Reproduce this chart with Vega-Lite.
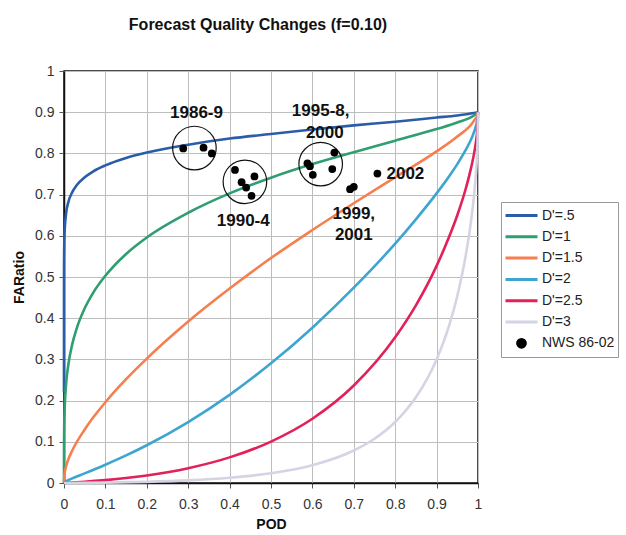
{
  "$schema": "https://vega.github.io/schema/vega-lite/v6.json",
  "autosize": "none",
  "width": 414,
  "height": 412,
  "padding": {"left": 64, "top": 71, "right": 148, "bottom": 52},
  "background": "white",
  "title": {
    "text": "Forecast Quality Changes (f=0.10)",
    "font": "Liberation Sans",
    "fontSize": 16,
    "fontWeight": "bold",
    "color": "#111",
    "anchor": "middle",
    "frame": "group",
    "dx": -13,
    "baseline": "alphabetic",
    "offset": 18
  },
  "config": {
    "view": {"stroke": "#111", "strokeWidth": 1.5},
    "axis": {
      "labelFont": "Liberation Sans",
      "labelFontSize": 14,
      "labelColor": "#333",
      "labelFlush": false,
      "titleFont": "Liberation Sans",
      "titleFontSize": 14,
      "titleFontWeight": "bold",
      "titleColor": "#111",
      "gridColor": "#bdbdbd",
      "gridWidth": 1,
      "domainColor": "#111",
      "domainWidth": 1.5,
      "tickColor": "#555",
      "tickSize": 5
    }
  },
  "datasets": {
    "curves": [
      {"s": "D'=.5", "pod": 0, "far": 0.22},
      {"s": "D'=.5", "pod": 0.00001, "far": 0.46},
      {"s": "D'=.5", "pod": 0.0001, "far": 0.525},
      {"s": "D'=.5", "pod": 0.001, "far": 0.598},
      {"s": "D'=.5", "pod": 0.005, "far": 0.654},
      {"s": "D'=.5", "pod": 0.01, "far": 0.68},
      {"s": "D'=.5", "pod": 0.02, "far": 0.706},
      {"s": "D'=.5", "pod": 0.03, "far": 0.722},
      {"s": "D'=.5", "pod": 0.05, "far": 0.742},
      {"s": "D'=.5", "pod": 0.07, "far": 0.756},
      {"s": "D'=.5", "pod": 0.1, "far": 0.771},
      {"s": "D'=.5", "pod": 0.15, "far": 0.789},
      {"s": "D'=.5", "pod": 0.2, "far": 0.802},
      {"s": "D'=.5", "pod": 0.3, "far": 0.821},
      {"s": "D'=.5", "pod": 0.4, "far": 0.836},
      {"s": "D'=.5", "pod": 0.5, "far": 0.847},
      {"s": "D'=.5", "pod": 0.6, "far": 0.858},
      {"s": "D'=.5", "pod": 0.7, "far": 0.868},
      {"s": "D'=.5", "pod": 0.8, "far": 0.877},
      {"s": "D'=.5", "pod": 0.9, "far": 0.887},
      {"s": "D'=.5", "pod": 0.95, "far": 0.892},
      {"s": "D'=.5", "pod": 0.99, "far": 0.898},
      {"s": "D'=.5", "pod": 1, "far": 0.9},
      {"s": "D'=1", "pod": 0, "far": 0},
      {"s": "D'=1", "pod": 0.0001, "far": 0.096},
      {"s": "D'=1", "pod": 0.001, "far": 0.162},
      {"s": "D'=1", "pod": 0.005, "far": 0.239},
      {"s": "D'=1", "pod": 0.01, "far": 0.284},
      {"s": "D'=1", "pod": 0.02, "far": 0.337},
      {"s": "D'=1", "pod": 0.03, "far": 0.373},
      {"s": "D'=1", "pod": 0.05, "far": 0.424},
      {"s": "D'=1", "pod": 0.07, "far": 0.461},
      {"s": "D'=1", "pod": 0.1, "far": 0.503},
      {"s": "D'=1", "pod": 0.15, "far": 0.556},
      {"s": "D'=1", "pod": 0.2, "far": 0.596},
      {"s": "D'=1", "pod": 0.3, "far": 0.656},
      {"s": "D'=1", "pod": 0.4, "far": 0.703},
      {"s": "D'=1", "pod": 0.5, "far": 0.741},
      {"s": "D'=1", "pod": 0.6, "far": 0.774},
      {"s": "D'=1", "pod": 0.7, "far": 0.803},
      {"s": "D'=1", "pod": 0.8, "far": 0.831},
      {"s": "D'=1", "pod": 0.9, "far": 0.859},
      {"s": "D'=1", "pod": 0.95, "far": 0.875},
      {"s": "D'=1", "pod": 0.99, "far": 0.892},
      {"s": "D'=1", "pod": 1, "far": 0.9},
      {"s": "D'=1.5", "pod": 0, "far": 0},
      {"s": "D'=1.5", "pod": 0.0001, "far": 0.008},
      {"s": "D'=1.5", "pod": 0.001, "far": 0.02},
      {"s": "D'=1.5", "pod": 0.005, "far": 0.04},
      {"s": "D'=1.5", "pod": 0.01, "far": 0.056},
      {"s": "D'=1.5", "pod": 0.02, "far": 0.079},
      {"s": "D'=1.5", "pod": 0.05, "far": 0.13},
      {"s": "D'=1.5", "pod": 0.1, "far": 0.196},
      {"s": "D'=1.5", "pod": 0.15, "far": 0.252},
      {"s": "D'=1.5", "pod": 0.2, "far": 0.302},
      {"s": "D'=1.5", "pod": 0.3, "far": 0.392},
      {"s": "D'=1.5", "pod": 0.4, "far": 0.472},
      {"s": "D'=1.5", "pod": 0.5, "far": 0.546},
      {"s": "D'=1.5", "pod": 0.6, "far": 0.614},
      {"s": "D'=1.5", "pod": 0.7, "far": 0.679},
      {"s": "D'=1.5", "pod": 0.8, "far": 0.742},
      {"s": "D'=1.5", "pod": 0.9, "far": 0.805},
      {"s": "D'=1.5", "pod": 0.95, "far": 0.841},
      {"s": "D'=1.5", "pod": 0.99, "far": 0.879},
      {"s": "D'=1.5", "pod": 0.999, "far": 0.895},
      {"s": "D'=1.5", "pod": 1, "far": 0.9},
      {"s": "D'=2", "pod": 0, "far": 0},
      {"s": "D'=2", "pod": 0.01, "far": 0.0067},
      {"s": "D'=2", "pod": 0.02, "far": 0.0113},
      {"s": "D'=2", "pod": 0.05, "far": 0.0234},
      {"s": "D'=2", "pod": 0.1, "far": 0.0444},
      {"s": "D'=2", "pod": 0.15, "far": 0.0669},
      {"s": "D'=2", "pod": 0.2, "far": 0.0916},
      {"s": "D'=2", "pod": 0.3, "far": 0.148},
      {"s": "D'=2", "pod": 0.4, "far": 0.214},
      {"s": "D'=2", "pod": 0.5, "far": 0.2905},
      {"s": "D'=2", "pod": 0.6, "far": 0.377},
      {"s": "D'=2", "pod": 0.7, "far": 0.474},
      {"s": "D'=2", "pod": 0.8, "far": 0.581},
      {"s": "D'=2", "pod": 0.85, "far": 0.64},
      {"s": "D'=2", "pod": 0.9, "far": 0.703},
      {"s": "D'=2", "pod": 0.93, "far": 0.744},
      {"s": "D'=2", "pod": 0.95, "far": 0.774},
      {"s": "D'=2", "pod": 0.97, "far": 0.808},
      {"s": "D'=2", "pod": 0.98, "far": 0.827},
      {"s": "D'=2", "pod": 0.99, "far": 0.851},
      {"s": "D'=2", "pod": 0.999, "far": 0.886},
      {"s": "D'=2", "pod": 1, "far": 0.9},
      {"s": "D'=2.5", "pod": 0, "far": 0},
      {"s": "D'=2.5", "pod": 0.05, "far": 0.003},
      {"s": "D'=2.5", "pod": 0.1, "far": 0.007},
      {"s": "D'=2.5", "pod": 0.15, "far": 0.012},
      {"s": "D'=2.5", "pod": 0.2, "far": 0.0184},
      {"s": "D'=2.5", "pod": 0.3, "far": 0.036},
      {"s": "D'=2.5", "pod": 0.4, "far": 0.0622},
      {"s": "D'=2.5", "pod": 0.5, "far": 0.1006},
      {"s": "D'=2.5", "pod": 0.6, "far": 0.156},
      {"s": "D'=2.5", "pod": 0.7, "far": 0.2366},
      {"s": "D'=2.5", "pod": 0.8, "far": 0.3536},
      {"s": "D'=2.5", "pod": 0.85, "far": 0.431},
      {"s": "D'=2.5", "pod": 0.9, "far": 0.527},
      {"s": "D'=2.5", "pod": 0.93, "far": 0.597},
      {"s": "D'=2.5", "pod": 0.95, "far": 0.65},
      {"s": "D'=2.5", "pod": 0.97, "far": 0.713},
      {"s": "D'=2.5", "pod": 0.98, "far": 0.751},
      {"s": "D'=2.5", "pod": 0.99, "far": 0.797},
      {"s": "D'=2.5", "pod": 0.995, "far": 0.8275},
      {"s": "D'=2.5", "pod": 0.999, "far": 0.867},
      {"s": "D'=2.5", "pod": 1, "far": 0.9},
      {"s": "D'=3", "pod": 0, "far": 0},
      {"s": "D'=3", "pod": 0.1, "far": 0.0008},
      {"s": "D'=3", "pod": 0.2, "far": 0.0028},
      {"s": "D'=3", "pod": 0.3, "far": 0.0063},
      {"s": "D'=3", "pod": 0.4, "far": 0.0127},
      {"s": "D'=3", "pod": 0.5, "far": 0.0237},
      {"s": "D'=3", "pod": 0.6, "far": 0.0431},
      {"s": "D'=3", "pod": 0.7, "far": 0.0788},
      {"s": "D'=3", "pod": 0.75, "far": 0.1073},
      {"s": "D'=3", "pod": 0.8, "far": 0.148},
      {"s": "D'=3", "pod": 0.85, "far": 0.208},
      {"s": "D'=3", "pod": 0.9, "far": 0.3},
      {"s": "D'=3", "pod": 0.93, "far": 0.3815},
      {"s": "D'=3", "pod": 0.95, "far": 0.454},
      {"s": "D'=3", "pod": 0.97, "far": 0.55},
      {"s": "D'=3", "pod": 0.98, "far": 0.6125},
      {"s": "D'=3", "pod": 0.99, "far": 0.6946},
      {"s": "D'=3", "pod": 0.995, "far": 0.752},
      {"s": "D'=3", "pod": 0.999, "far": 0.828},
      {"s": "D'=3", "pod": 1, "far": 0.9}
    ],
    "nws": [
      {"s": "NWS 86-02", "pod": 0.288, "far": 0.812},
      {"s": "NWS 86-02", "pod": 0.337, "far": 0.814},
      {"s": "NWS 86-02", "pod": 0.357, "far": 0.8},
      {"s": "NWS 86-02", "pod": 0.413, "far": 0.76},
      {"s": "NWS 86-02", "pod": 0.429, "far": 0.73},
      {"s": "NWS 86-02", "pod": 0.44, "far": 0.717},
      {"s": "NWS 86-02", "pod": 0.46, "far": 0.744},
      {"s": "NWS 86-02", "pod": 0.453, "far": 0.697},
      {"s": "NWS 86-02", "pod": 0.588, "far": 0.776},
      {"s": "NWS 86-02", "pod": 0.594, "far": 0.769},
      {"s": "NWS 86-02", "pod": 0.601, "far": 0.748},
      {"s": "NWS 86-02", "pod": 0.653, "far": 0.802},
      {"s": "NWS 86-02", "pod": 0.648, "far": 0.762},
      {"s": "NWS 86-02", "pod": 0.691, "far": 0.713},
      {"s": "NWS 86-02", "pod": 0.7, "far": 0.719},
      {"s": "NWS 86-02", "pod": 0.757, "far": 0.751}
    ],
    "rings": [
      {"group": "1986-9", "pod": 0.315, "far": 0.813},
      {"group": "1990-4", "pod": 0.437, "far": 0.731},
      {"group": "1995-8, 2000", "pod": 0.62, "far": 0.774}
    ],
    "notes": [
      {"text": "1986-9", "pod": 0.32, "far": 0.899, "side": "center"},
      {"text": "1990-4", "pod": 0.433, "far": 0.637, "side": "center"},
      {"text": "1995-8,", "pod": 0.62, "far": 0.903, "side": "center"},
      {"text": "2000", "pod": 0.63, "far": 0.85, "side": "center"},
      {"text": "1999,", "pod": 0.7, "far": 0.653, "side": "center"},
      {"text": "2001", "pod": 0.7, "far": 0.601, "side": "center"},
      {"text": "2002", "pod": 0.779, "far": 0.75, "side": "left"}
    ]
  },
  "encoding": {
    "x": {
      "field": "pod",
      "type": "quantitative",
      "title": "POD",
      "scale": {"domain": [0, 1], "nice": false},
      "axis": {
        "values": [0, 0.1, 0.2, 0.3, 0.4, 0.5, 0.6, 0.7, 0.8, 0.9, 1],
        "format": "~g",
        "labelPadding": 9,
        "titlePadding": 6
      }
    },
    "y": {
      "field": "far",
      "type": "quantitative",
      "title": "FARatio",
      "scale": {"domain": [0, 1], "nice": false},
      "axis": {
        "values": [0, 0.1, 0.2, 0.3, 0.4, 0.5, 0.6, 0.7, 0.8, 0.9, 1],
        "format": "~g",
        "labelPadding": 5,
        "titlePadding": 8
      }
    }
  },
  "layer": [
    {
      "data": {"name": "curves"},
      "mark": {"type": "line", "strokeWidth": 2.6, "interpolate": "monotone"},
      "encoding": {
        "color": {
          "field": "s",
          "type": "nominal",
          "scale": {
            "domain": ["D'=.5", "D'=1", "D'=1.5", "D'=2", "D'=2.5", "D'=3", "NWS 86-02"],
            "range": ["#2b5ca8", "#2f9e70", "#f57f4f", "#3da5d0", "#e2215a", "#d4d4e4", "#000000"]
          },
          "legend": {
            "orient": "none",
            "legendX": 437,
            "legendY": 131,
            "title": null,
            "symbolType": "stroke",
            "symbolSize": 1024,
            "symbolStrokeWidth": 3,
            "labelFont": "Liberation Sans",
            "labelFontSize": 14,
            "labelColor": "#222",
            "labelOffset": 3,
            "clipHeight": 21,
            "rowPadding": 0.3,
            "padding": 3,
            "strokeColor": "#999",
            "fillColor": "white",
            "encode": {
              "symbols": {
                "update": {
                  "shape": {"signal": "datum.value === 'NWS 86-02' ? 'circle' : 'stroke'"},
                  "size": {"signal": "datum.value === 'NWS 86-02' ? 60 : 1024"},
                  "fill": {"signal": "datum.value === 'NWS 86-02' ? 'black' : 'transparent'"},
                  "stroke": {"signal": "datum.value === 'NWS 86-02' ? 'transparent' : scale('color', datum.value)"},
                  "strokeWidth": {"value": 3},
                  "opacity": {"value": 1}
                }
              }
            }
          }
        }
      }
    },
    {
      "data": {"name": "rings"},
      "mark": {"type": "point", "shape": "circle", "filled": false, "size": 1900, "stroke": "#111", "strokeWidth": 1.2, "opacity": 1}
    },
    {
      "data": {"name": "nws"},
      "mark": {"type": "point", "shape": "circle", "filled": true, "size": 60, "opacity": 1},
      "encoding": {
        "color": {"field": "s", "type": "nominal"}
      }
    },
    {
      "data": {"name": "notes"},
      "transform": [{"filter": "datum.side == 'center'"}],
      "mark": {"type": "text", "font": "Liberation Sans", "fontSize": 17, "fontWeight": "bold", "color": "#111", "baseline": "middle", "align": "center"},
      "encoding": {
        "text": {"field": "text"}
      }
    },
    {
      "data": {"name": "notes"},
      "transform": [{"filter": "datum.side == 'left'"}],
      "mark": {"type": "text", "font": "Liberation Sans", "fontSize": 17, "fontWeight": "bold", "color": "#111", "baseline": "middle", "align": "left"},
      "encoding": {
        "text": {"field": "text"}
      }
    }
  ]
}
